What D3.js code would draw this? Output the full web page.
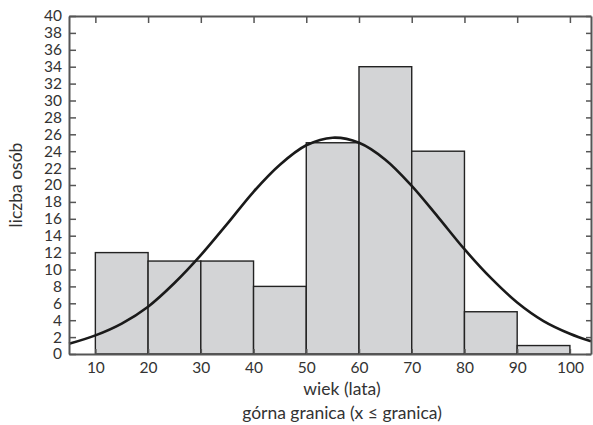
<!DOCTYPE html>
<html>
<head>
<meta charset="utf-8">
<script src="https://cdn.jsdelivr.net/npm/d3@7"></script>
<style>
  body { margin: 0; background: #fff; }
  text { font-family: Lato, "Open Sans", sans-serif; fill: #333; }
</style>
</head>
<body>
<svg id="chart"></svg>
<script>
const w = 593;
const h = 425;

// histogram bins (lower edge, upper edge) and counts
const binStarts = [10, 20, 30, 40, 50, 60, 70, 80, 90];
const binEnds = [20, 30, 40, 50, 60, 70, 80, 90, 100];
const counts = [12, 11, 11, 8, 25, 34, 24, 5, 1];

// fitted normal curve
const curveX = [5, 10, 15, 20, 25, 30, 35, 40, 45, 50, 55, 60, 65, 70, 75, 80, 85, 90, 95, 100, 104];
const curveY = [1.2, 2.2, 3.6, 5.6, 8.4, 11.7, 15.4, 19.2, 22.4, 24.7, 25.6, 25.0, 23.0, 19.9, 16.2, 12.4, 9.0, 6.1, 3.9, 2.4, 1.5];

const xTicks = [10, 20, 30, 40, 50, 60, 70, 80, 90, 100];
const yTicks = d3.range(0, 41, 2);

const margin = { top: 16, right: 2, bottom: 71, left: 69 };

const svg = d3.select("#chart")
  .attr("width", w)
  .attr("height", h);

const x = d3.scaleLinear()
  .domain([5, 104])
  .range([margin.left, w - margin.right]);

const y = d3.scaleLinear()
  .domain([0, 40])
  .range([h - margin.bottom, margin.top]);

// bars
svg.selectAll("rect.bar")
  .data(counts)
  .enter()
  .append("rect")
  .attr("class", "bar")
  .attr("x", (d, i) => x(binStarts[i]))
  .attr("y", d => y(d))
  .attr("width", (d, i) => x(binEnds[i]) - x(binStarts[i]))
  .attr("height", d => y(0) - y(d))
  .attr("fill", "#d3d4d6")
  .attr("stroke", "#222")
  .attr("stroke-width", 1.4);

// curve
const line = d3.line()
  .x(d => x(d[0]))
  .y(d => y(d[1]))
  .curve(d3.curveCatmullRom);

svg.append("path")
  .datum(curveX.map((v, i) => [v, curveY[i]]))
  .attr("d", line)
  .attr("fill", "none")
  .attr("stroke", "#1a1a1a")
  .attr("stroke-width", 2.6);

// axes
const axisColor = "#555";

const gLeft = svg.append("g")
  .attr("transform", `translate(${margin.left},0)`)
  .call(d3.axisLeft(y).tickValues(yTicks).tickSizeInner(-7).tickSizeOuter(0).tickPadding(7));

const gRight = svg.append("g")
  .attr("transform", `translate(${w - margin.right},0)`)
  .call(d3.axisRight(y).tickValues(yTicks).tickSizeInner(-5).tickSizeOuter(0).tickFormat(""));

const gTop = svg.append("g")
  .attr("transform", `translate(0,${margin.top})`)
  .call(d3.axisTop(x).tickValues(xTicks).tickSizeInner(-7).tickSizeOuter(0).tickFormat(""));

const gBottom = svg.append("g")
  .attr("transform", `translate(0,${h - margin.bottom})`)
  .call(d3.axisBottom(x).tickValues(xTicks).tickSizeInner(-5).tickSizeOuter(0).tickPadding(8));

[gLeft, gRight, gTop, gBottom].forEach(g => {
  g.select(".domain").attr("stroke", axisColor).attr("stroke-width", 2);
  g.selectAll(".tick line").attr("stroke", axisColor).attr("stroke-width", 1.5);
  g.selectAll(".tick text").attr("fill", "#333").style("font-size", "15.5px")
    .style("font-family", "Lato, 'Open Sans', sans-serif");
});

// titles
svg.append("text")
  .attr("x", 342)
  .attr("y", 395)
  .attr("text-anchor", "middle")
  .style("font-size", "17.5px")
  .text("wiek (lata)");

svg.append("text")
  .attr("x", 342)
  .attr("y", 419)
  .attr("text-anchor", "middle")
  .style("font-size", "17.5px")
  .text("górna granica (x ≤ granica)");

svg.append("text")
  .attr("transform", `translate(22,${(margin.top + h - margin.bottom) / 2}) rotate(-90)`)
  .attr("text-anchor", "middle")
  .style("font-size", "17.5px")
  .text("liczba osób");
</script>
</body>
</html>
